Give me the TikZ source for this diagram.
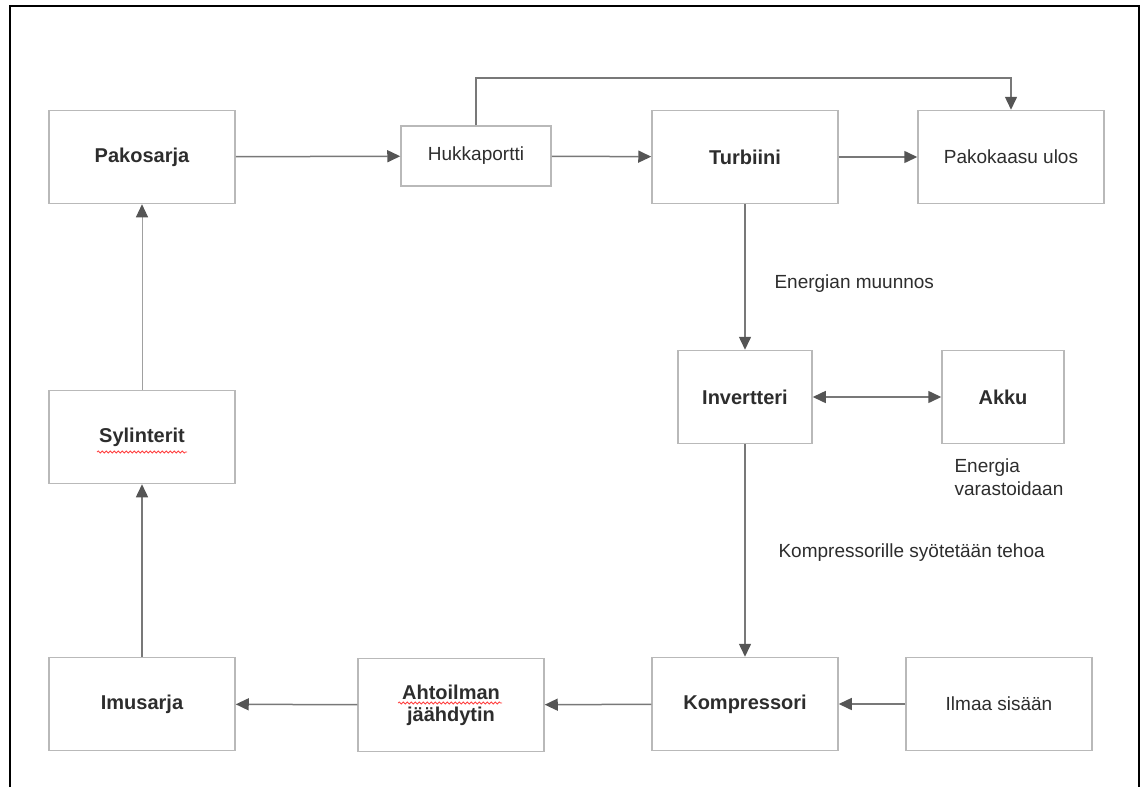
\documentclass[tikz,border=0pt]{standalone}
\usepackage{fontspec}
\setmainfont{Liberation Sans}
\usetikzlibrary{arrows.meta, positioning, decorations.pathmorphing}
\definecolor{boxgray}{RGB}{185,185,185}
\definecolor{linegray}{RGB}{120,120,120}
\definecolor{tipgray}{RGB}{85,85,85}
\definecolor{textgray}{RGB}{45,45,45}

\tikzset{
  block/.style={draw=boxgray, line width=1.5pt, minimum width=186pt, minimum height=93pt,
    align=center, text=textgray, font=\fontsize{20}{22}\selectfont\bfseries},
  plainblock/.style={block, font=\fontsize{19}{22}\selectfont},
  flow/.style={draw=linegray, line width=1.5pt, -{Triangle[length=13pt, width=12pt, color=tipgray]}},
  note/.style={anchor=west, align=left, text=textgray, font=\fontsize{19}{23}\selectfont},
  squiggle/.style={draw=red!75, line width=0.8pt, decorate, decoration={snake, amplitude=1pt, segment length=4pt}}
}

\begin{document}
\begin{tikzpicture}[x=1pt, y=-1pt]
  \useasboundingbox (0,0) rectangle (1147,787);
  % outer frame, open at the bottom
  \draw[black, line width=2pt] (10,787) |- (1139,6) -- (1139,787);

  % top row
  \node[block] (pako) at (142,157) {Pakosarja};
  \node[plainblock, minimum width=150pt, minimum height=60pt] (hukka) at (476,156) {Hukkaportti};
  \node[block] (turb) at (745,157) {Turbiini};
  \node[plainblock] (ulos) at (1011,157) {Pakokaasu ulos};

  % middle
  \node[block, minimum width=134pt] (inv) at (745,397) {Invertteri};
  \node[block, minimum width=122pt] (akku) at (1003,397) {Akku};
  \node[block] (syl) at (142,437) {Sylinterit};

  % bottom row
  \node[block] (imu) at (142,704) {Imusarja};
  \node[block] (jaah) at (451,705) {Ahtoilman\\jäähdytin};
  \node[block] (komp) at (745,704) {Kompressori};
  \node[plainblock] (ilma) at (999,704) {Ilmaa sisään};

  % texts
  \node[note] (muunnos) at (771,284) {Energian muunnos};
  \node[note] (varasto) at (951,477) {Energia\\varastoidaan};
  \node[note] (teho) at (775,553) {Kompressorille syötetään tehoa};

  % connectors
  \coordinate (ohitus) at (1011,78);
  \draw[flow] (pako) -- (hukka);
  \draw[flow] (hukka) -- (turb);
  \draw[flow] (hukka.north) |- (ohitus) -- (ulos.north);
  \draw[flow] (turb) -- (ulos);
  \draw[flow] (turb) -- (inv);
  \draw[flow, {Triangle[length=13pt, width=12pt, color=tipgray]}-{Triangle[length=13pt, width=12pt, color=tipgray]}] (inv) -- (akku);
  \draw[flow] (inv) -- (komp);
  \draw[flow] (ilma) -- (komp);
  \draw[flow] (komp) -- (jaah);
  \draw[flow] (jaah) -- (imu);
  \draw[flow] (imu) -- (syl);
  \draw[flow, line width=1pt, draw=linegray!70] (syl) -- (pako);

  % spell check marks
  \draw[squiggle] (syl.center) ++(-45,15) -- ++(90,0);
  \draw[squiggle] (jaah.center) ++(-53,-2) -- ++(104,0);
\end{tikzpicture}
\end{document}
